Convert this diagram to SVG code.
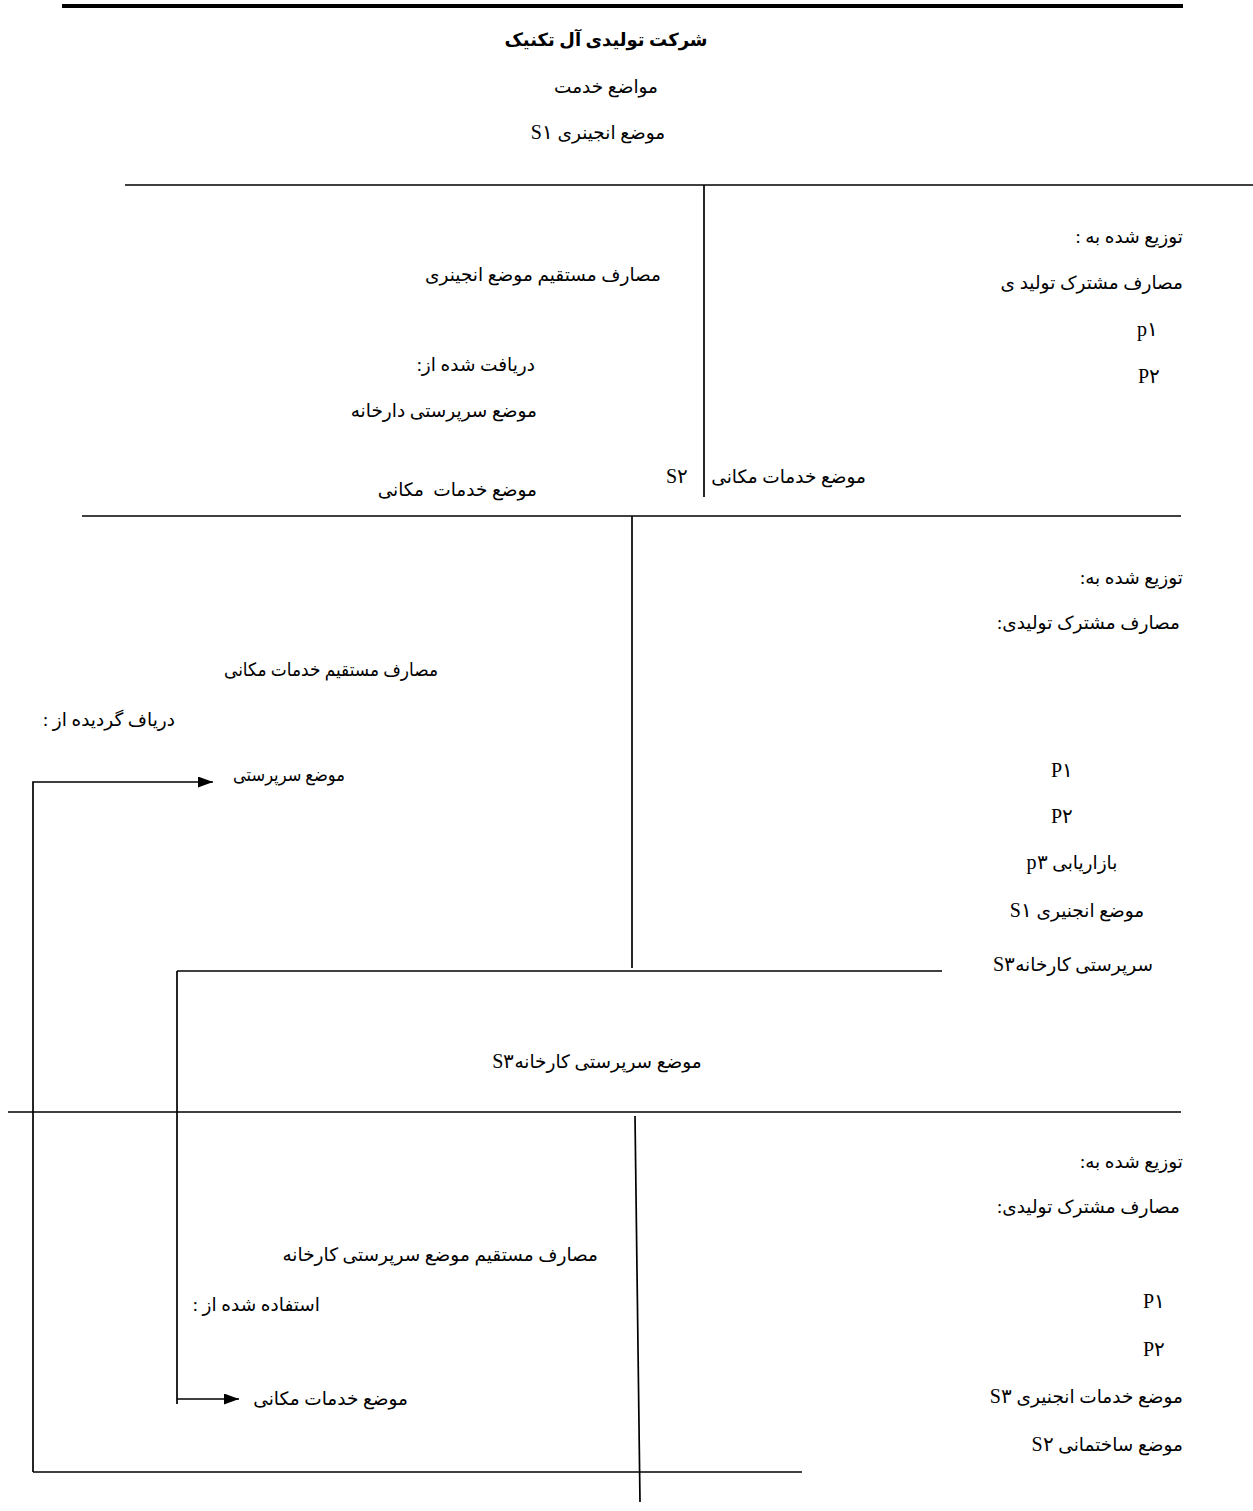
<svg xmlns="http://www.w3.org/2000/svg" width="1253" height="1511" viewBox="0 0 1253 1511">
  <style>
    text { font-family: "Liberation Serif", "DejaVu Sans", serif; font-size: 18.5px; fill: #000; }
    .r { direction: rtl; text-anchor: start; }
    .c { direction: rtl; text-anchor: middle; }
    .b { font-weight: bold; font-size: 18px; }
    .lat { font-family: "Liberation Serif", serif; font-size: 20px; }
    .rule { stroke: #000; stroke-width: 1.7; fill: none; }
    .wire { stroke: #000; stroke-width: 1.7; fill: none; }
  </style>
  <defs>
    <marker id="tri" viewBox="0 0 10 10" refX="10" refY="5" markerWidth="15" markerHeight="11" markerUnits="userSpaceOnUse" orient="auto" preserveAspectRatio="none">
      <path d="M0,0 L10,5 L0,10 z" fill="#000"/>
    </marker>
  </defs>

  <rect width="1253" height="1511" fill="#fff"/>

  <!-- table rules -->
  <g id="rules">
    <line x1="62" y1="6" x2="1183" y2="6" stroke="#000" stroke-width="4"/>
    <line class="rule" x1="125" y1="185" x2="1253" y2="185"/>
    <line class="rule" x1="704" y1="185" x2="704" y2="497"/>
    <line class="rule" x1="82" y1="516" x2="1181" y2="516"/>
    <line class="rule" x1="632" y1="516" x2="632" y2="968"/>
    <line class="rule" x1="8" y1="1112" x2="1181" y2="1112"/>
    <line class="rule" x1="635" y1="1116" x2="640" y2="1502"/>
    <line class="rule" x1="177" y1="971" x2="942" y2="971"/>
    <line class="rule" x1="33" y1="1472" x2="802" y2="1472"/>
  </g>

  <!-- flow connectors -->
  <g id="connectors">
    <path class="wire" d="M33,1472 L33,782 L213,782" marker-end="url(#tri)"/>
    <path class="wire" d="M177,971 L177,1404 M177,1399 L239,1399" marker-end="url(#tri)"/>
  </g>

  <g id="header">
    <text class="c b" x="606" y="46">شرکت تولیدی آل تکنیک</text>
    <text class="c" x="606" y="93">مواضع خدمت</text>
    <text class="c" x="598" y="139">موضع انجینری <tspan class="lat">S۱</tspan></text>
  </g>

  <g id="s1-direct">
    <text class="r" x="661" y="281">مصارف مستقیم موضع انجینری</text>
    <text class="r" x="535" y="371">دریافت شده از:</text>
    <text class="r" x="537" y="417">موضع سرپرستی دارخانه</text>
    <text class="r" x="537" y="496">موضع خدمات&#160; مکانی</text>
  </g>

  <g id="s1-allocated">
    <text class="r" x="1183" y="243">توزیع شده به :</text>
    <text class="r" x="1183" y="289">مصارف مشترک تولید ی</text>
    <text class="r lat" x="1158" y="336">p۱</text>
    <text class="r lat" x="1160" y="383">P۲</text>
  </g>

  <g id="s2-title">
    <text class="r" x="866" y="483">موضع خدمات مکانی&#160;&#160;&#160;&#160; <tspan class="lat">S۲</tspan></text>
  </g>

  <g id="s2-direct">
    <text class="r" x="438" y="676" textLength="214" lengthAdjust="spacingAndGlyphs">مصارف مستقیم خدمات مکانی</text>
    <text class="r" x="175" y="726">دریاف گردیده از :</text>
    <text class="r" x="345" y="781" textLength="112" lengthAdjust="spacingAndGlyphs">موضع سرپرستی</text>
  </g>

  <g id="s2-allocated">
    <text class="r" x="1183" y="584">توزیع شده به:</text>
    <text class="r" x="1180" y="629">مصارف مشترک تولیدی:</text>
    <text class="c lat" x="1062" y="777">P۱</text>
    <text class="c lat" x="1062" y="823">P۲</text>
    <text class="c" x="1072" y="869">بازاریابی <tspan class="lat">p۳</tspan></text>
    <text class="c" x="1077" y="917">موضع انجنیری <tspan class="lat">S۱</tspan></text>
    <text class="c" x="1073" y="971">سرپرستی کارخانه<tspan class="lat">S۳</tspan></text>
  </g>

  <g id="s3-title">
    <text class="c" x="597" y="1068">موضع سرپرستی کارخانه<tspan class="lat">S۳</tspan></text>
  </g>

  <g id="s3-direct">
    <text class="r" x="598" y="1261">مصارف مستقیم موضع سرپرستی کارخانه</text>
    <text class="r" x="320" y="1311">استفاده شده از :</text>
    <text class="r" x="408" y="1405">موضع خدمات مکانی</text>
  </g>

  <g id="s3-allocated">
    <text class="r" x="1183" y="1168">توزیع شده به:</text>
    <text class="r" x="1180" y="1213">مصارف مشترک تولیدی:</text>
    <text class="r lat" x="1165" y="1308">P۱</text>
    <text class="r lat" x="1165" y="1356">P۲</text>
    <text class="r" x="1183" y="1403">موضع خدمات انجنیری <tspan class="lat">S۳</tspan></text>
    <text class="r" x="1183" y="1451">موضع ساختمانی <tspan class="lat">S۲</tspan></text>
  </g>
</svg>
